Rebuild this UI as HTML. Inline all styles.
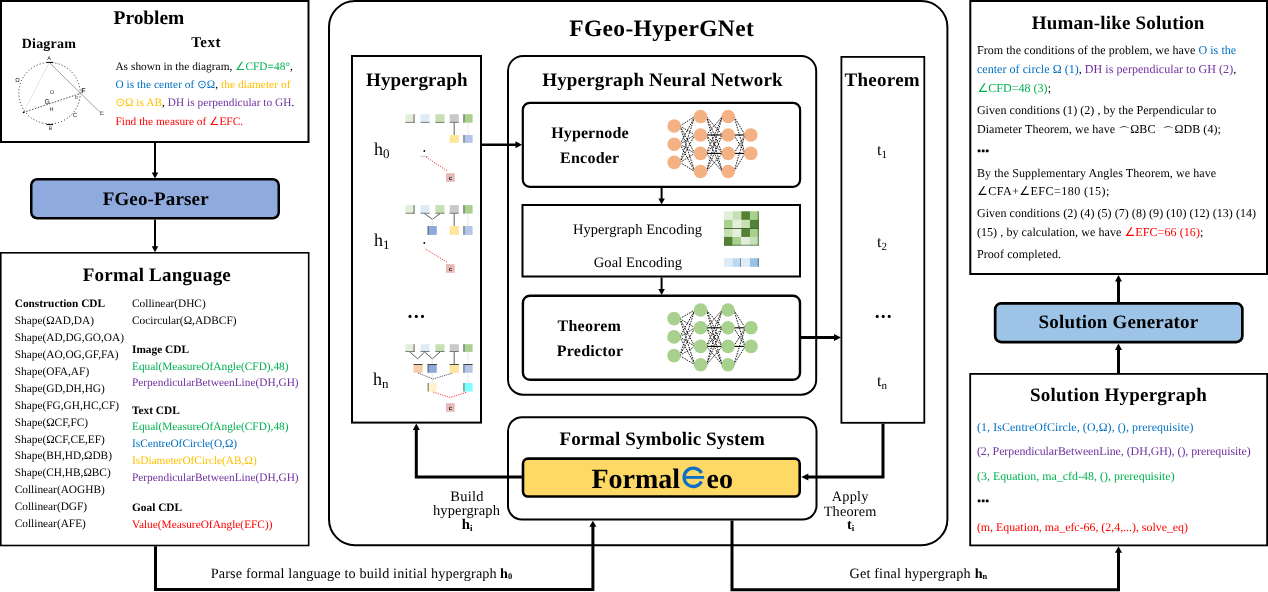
<!DOCTYPE html><html><head><meta charset="utf-8"><style>html,body{margin:0;padding:0;background:#fff;width:1268px;height:592px;overflow:hidden}svg{display:block;will-change:transform}text{font-family:"Liberation Serif",serif;text-rendering:geometricPrecision}</style></head><body>
<svg width="1268" height="592" viewBox="0 0 1268 592">
<rect x="0" y="0" width="1268" height="592" fill="#fff"/>
<rect x="1.00" y="1.00" width="307.50" height="141.00" rx="0" fill="none" stroke="#000" stroke-width="2"/>
<text x="113.60" y="24.1" font-size="19.5" font-weight="bold" fill="#000" textLength="70.60" lengthAdjust="spacing" >Problem</text>
<text x="21.70" y="47.7" font-size="14" font-weight="bold" fill="#000" textLength="54.20" lengthAdjust="spacing" >Diagram</text>
<text x="191.20" y="46.8" font-size="15" font-weight="bold" fill="#000" textLength="29.20" lengthAdjust="spacing" >Text</text>
<text x="115.40" textLength="177.40" lengthAdjust="spacing" y="69.7" font-size="11.3">As shown in the diagram, <tspan fill="#00B050">∠CFD=48°</tspan>,</text>
<text x="115.40" textLength="175.00" lengthAdjust="spacing" y="88" font-size="11.3"><tspan fill="#0070C0">O is the center of ⊙Ω</tspan>, <tspan fill="#FFC000">the diameter of</tspan></text>
<text x="115.40" textLength="179.00" lengthAdjust="spacing" y="106.2" font-size="11.3"><tspan fill="#FFC000">⊙Ω is AB</tspan>, <tspan fill="#7030A0">DH is perpendicular to GH</tspan>.</text>
<text x="115.40" textLength="127.70" lengthAdjust="spacing" y="124.9" font-size="11.3" fill="#FF0000">Find the measure of ∠EFC.</text>
<circle cx="49.5" cy="93.2" r="30.7" fill="none" stroke="#222" stroke-width="1" stroke-dasharray="1 2.2"/>
<line x1="49.3" y1="62.5" x2="99.5" y2="111.8" stroke="#8a8a8a" stroke-width="0.8" />
<line x1="49.3" y1="62.5" x2="23.5" y2="112.4" stroke="#bbb" stroke-width="0.8" stroke-dasharray="1 1"/>
<line x1="23.5" y1="112.4" x2="80.4" y2="93.5" stroke="#333" stroke-width="0.9" stroke-dasharray="1.5 1.5"/>
<g font-family="Liberation Sans, sans-serif" fill="#222" text-anchor="middle">
<text x="49.2" y="60.4" font-size="5.5" font-weight="normal" style="font-family:Liberation Sans">A</text>
<text x="83.3" y="93.4" font-size="7" font-weight="bold" style="font-family:Liberation Sans">F</text>
<text x="102" y="114.6" font-size="6" font-weight="normal" style="font-family:Liberation Sans">E</text>
<text x="47.2" y="104" font-size="7" font-weight="normal" style="font-family:Liberation Sans">G</text>
<text x="52" y="94.3" font-size="5.5" font-weight="normal" style="font-family:Liberation Sans">O</text>
<text x="51.5" y="111" font-size="5.5" font-weight="normal" style="font-family:Liberation Sans">H</text>
<text x="75" y="117.2" font-size="6" font-weight="normal" style="font-family:Liberation Sans">C</text>
<text x="50.5" y="130" font-size="5" font-weight="normal" style="font-family:Liberation Sans">B</text>
<text x="17.4" y="82" font-size="6" font-weight="normal" style="font-family:Liberation Sans">Ω</text>
<text x="76.4" y="98.6" font-size="4.5" font-weight="normal" style="font-family:Liberation Sans">D</text>
</g>
<line x1="46.5" y1="62.4" x2="53.2" y2="62.4" stroke="#000" stroke-width="1" />
<line x1="46.5" y1="124.6" x2="53.2" y2="124.6" stroke="#000" stroke-width="1" />
<circle cx="23.5" cy="112.4" r="0.8" fill="#000"/>
<rect x="31.25" y="179.25" width="247.50" height="39.00" rx="6" fill="#8FAADC" stroke="#000" stroke-width="2.5"/>
<text x="102.70" y="204.5" font-size="19" font-weight="bold" fill="#000" textLength="105.90" lengthAdjust="spacing" >FGeo-Parser</text>
<line x1="155" y1="143" x2="155" y2="174" stroke="#000" stroke-width="2" />
<polygon points="155.00,178.50 151.75,172.50 158.25,172.50" fill="#000"/>
<line x1="155" y1="219.5" x2="155" y2="248" stroke="#000" stroke-width="2" />
<polygon points="155.00,252.30 151.75,246.30 158.25,246.30" fill="#000"/>
<rect x="0.80" y="252.80" width="307.90" height="292.70" rx="0" fill="none" stroke="#000" stroke-width="1.6"/>
<text x="82.80" y="280.8" font-size="19" font-weight="bold" fill="#000" textLength="148.00" lengthAdjust="spacing" >Formal Language</text>
<text x="14.7" y="307.1" font-size="11.35" font-weight="bold" text-anchor="start" fill="#000" >Construction CDL</text>
<text x="14.7" y="324.03" font-size="11.35" font-weight="normal" text-anchor="start" fill="#000" >Shape(ΩAD,DA)</text>
<text x="14.7" y="340.96" font-size="11.35" font-weight="normal" text-anchor="start" fill="#000" >Shape(AD,DG,GO,OA)</text>
<text x="14.7" y="357.89" font-size="11.35" font-weight="normal" text-anchor="start" fill="#000" >Shape(AO,OG,GF,FA)</text>
<text x="14.7" y="374.82" font-size="11.35" font-weight="normal" text-anchor="start" fill="#000" >Shape(OFA,AF)</text>
<text x="14.7" y="391.75" font-size="11.35" font-weight="normal" text-anchor="start" fill="#000" >Shape(GD,DH,HG)</text>
<text x="14.7" y="408.68" font-size="11.35" font-weight="normal" text-anchor="start" fill="#000" >Shape(FG,GH,HC,CF)</text>
<text x="14.7" y="425.61" font-size="11.35" font-weight="normal" text-anchor="start" fill="#000" >Shape(ΩCF,FC)</text>
<text x="14.7" y="442.54" font-size="11.35" font-weight="normal" text-anchor="start" fill="#000" >Shape(ΩCF,CE,EF)</text>
<text x="14.7" y="459.47" font-size="11.35" font-weight="normal" text-anchor="start" fill="#000" >Shape(BH,HD,ΩDB)</text>
<text x="14.7" y="476.4" font-size="11.35" font-weight="normal" text-anchor="start" fill="#000" >Shape(CH,HB,ΩBC)</text>
<text x="14.7" y="493.33" font-size="11.35" font-weight="normal" text-anchor="start" fill="#000" >Collinear(AOGHB)</text>
<text x="14.7" y="510.26" font-size="11.35" font-weight="normal" text-anchor="start" fill="#000" >Collinear(DGF)</text>
<text x="14.7" y="527.19" font-size="11.35" font-weight="normal" text-anchor="start" fill="#000" >Collinear(AFE)</text>
<text x="132" y="307.0" font-size="11.35" font-weight="normal" text-anchor="start" fill="#000" >Collinear(DHC)</text>
<text x="132" y="323.5" font-size="11.35" font-weight="normal" text-anchor="start" fill="#000" >Cocircular(Ω,ADBCF)</text>
<text x="132" y="352.6" font-size="11.35" font-weight="bold" text-anchor="start" fill="#000" >Image CDL</text>
<text x="132" y="369.6" font-size="11.35" font-weight="normal" text-anchor="start" fill="#00B050" >Equal(MeasureOfAngle(CFD),48)</text>
<text x="132" y="386.40000000000003" font-size="11.35" font-weight="normal" text-anchor="start" fill="#7030A0" >PerpendicularBetweenLine(DH,GH)</text>
<text x="132" y="414.0" font-size="11.35" font-weight="bold" text-anchor="start" fill="#000" >Text CDL</text>
<text x="132" y="430.40000000000003" font-size="11.35" font-weight="normal" text-anchor="start" fill="#00B050" >Equal(MeasureOfAngle(CFD),48)</text>
<text x="132" y="447.40000000000003" font-size="11.35" font-weight="normal" text-anchor="start" fill="#0070C0" >IsCentreOfCircle(O,Ω)</text>
<text x="132" y="464.40000000000003" font-size="11.35" font-weight="normal" text-anchor="start" fill="#FFC000" >IsDiameterOfCircle(AB,Ω)</text>
<text x="132" y="481.40000000000003" font-size="11.35" font-weight="normal" text-anchor="start" fill="#7030A0" >PerpendicularBetweenLine(DH,GH)</text>
<text x="132" y="510.6" font-size="11.35" font-weight="bold" text-anchor="start" fill="#000" >Goal CDL</text>
<text x="132" y="527.7" font-size="11.35" font-weight="normal" text-anchor="start" fill="#FF0000" >Value(MeasureOfAngle(EFC))</text>
<polyline points="155.5,546.3 155.5,589.5 592.9,589.5 592.9,526" fill="none" stroke="#000" stroke-width="3" stroke-linejoin="miter" />
<polygon points="592.90,520.80 589.40,526.80 596.40,526.80" fill="#000"/>
<text x="210.70" y="577.8" font-size="14.2" font-weight="normal" fill="#000" textLength="286.00" lengthAdjust="spacing" >Parse formal language to build initial hypergraph</text>
<text x="500" y="577.8" font-size="14.2" font-weight="bold">h<tspan font-size="8.5" dy="1.5">0</tspan></text>
<rect x="329.00" y="1.00" width="618.40" height="544.20" rx="26" fill="none" stroke="#000" stroke-width="2"/>
<text x="569.20" y="36" font-size="23.5" font-weight="bold" fill="#000" textLength="184.60" lengthAdjust="spacing" >FGeo-HyperGNet</text>
<rect x="352.00" y="56.00" width="129.00" height="366.60" rx="0" fill="none" stroke="#000" stroke-width="2"/>
<text x="366.00" y="85.8" font-size="19" font-weight="bold" fill="#000" textLength="101.50" lengthAdjust="spacing" >Hypergraph</text>
<text x="374" y="154.5" font-size="18">h<tspan font-size="13" dy="3">0</tspan></text>
<text x="374" y="245.7" font-size="18">h<tspan font-size="13" dy="3">1</tspan></text>
<text x="373" y="384.6" font-size="18">h<tspan font-size="13" dy="3">n</tspan></text>
<circle cx="410" cy="316.4" r="1.55" fill="#000"/>
<circle cx="416.3" cy="316.4" r="1.55" fill="#000"/>
<circle cx="422.5" cy="316.4" r="1.55" fill="#000"/>
<rect x="508.00" y="56.00" width="308.20" height="338.70" rx="15" fill="none" stroke="#000" stroke-width="2"/>
<text x="542.20" y="85.5" font-size="19" font-weight="bold" fill="#000" textLength="240.50" lengthAdjust="spacing" >Hypergraph Neural Network</text>
<rect x="522.80" y="102.80" width="277.30" height="84.00" rx="7" fill="none" stroke="#000" stroke-width="2.2"/>
<text x="551.20" y="137.8" font-size="16" font-weight="bold" fill="#000" textLength="77.40" lengthAdjust="spacing" >Hypernode</text>
<text x="560.10" y="162.6" font-size="16" font-weight="bold" fill="#000" textLength="59.10" lengthAdjust="spacing" >Encoder</text>
<rect x="522.50" y="205.00" width="277.50" height="71.50" rx="0" fill="none" stroke="#000" stroke-width="2"/>
<text x="572.90" y="233.9" font-size="14.5" font-weight="normal" fill="#000" textLength="129.20" lengthAdjust="spacing" >Hypergraph Encoding</text>
<text x="593.80" y="267.4" font-size="14.5" font-weight="normal" fill="#000" textLength="88.30" lengthAdjust="spacing" >Goal Encoding</text>
<rect x="522.90" y="295.70" width="277.10" height="84.10" rx="7" fill="none" stroke="#000" stroke-width="2.4"/>
<text x="557.60" y="330.8" font-size="16" font-weight="bold" fill="#000" textLength="63.20" lengthAdjust="spacing" >Theorem</text>
<text x="556.80" y="355.6" font-size="16" font-weight="bold" fill="#000" textLength="66.30" lengthAdjust="spacing" >Predictor</text>
<rect x="841.40" y="56.90" width="82.90" height="365.90" rx="0" fill="none" stroke="#000" stroke-width="1.8"/>
<text x="844.50" y="85.7" font-size="19" font-weight="bold" fill="#000" textLength="75.20" lengthAdjust="spacing" >Theorem</text>
<text x="877" y="154.8" font-size="16">t<tspan font-size="11" dy="3">1</tspan></text>
<text x="877" y="247.2" font-size="16">t<tspan font-size="11" dy="3">2</tspan></text>
<text x="877" y="386.1" font-size="16">t<tspan font-size="11" dy="3">n</tspan></text>
<circle cx="877.2" cy="316.4" r="1.55" fill="#000"/>
<circle cx="883.2" cy="316.4" r="1.55" fill="#000"/>
<circle cx="889.2" cy="316.4" r="1.55" fill="#000"/>
<rect x="508.00" y="417.20" width="308.50" height="102.40" rx="14" fill="none" stroke="#000" stroke-width="2"/>
<text x="559.40" y="444.5" font-size="19" font-weight="bold" fill="#000" textLength="205.40" lengthAdjust="spacing" >Formal Symbolic System</text>
<rect x="523.00" y="458.60" width="276.70" height="37.90" rx="5" fill="#FFD966" stroke="#000" stroke-width="2.6"/>
<text x="591.4" y="487.6" font-size="28" font-weight="bold" text-anchor="start" fill="#000" >Formal</text>
<text x="706.5" y="487.6" font-size="28" font-weight="bold" text-anchor="start" fill="#000" >eo</text>
<path d="M701.50,473.12 A9.2,9.2 0 1 0 701.50,481.48" fill="none" stroke="#0F6FC6" stroke-width="3.3"/>
<rect x="686.00" y="476" width="18.10" height="2.8" fill="#0F6FC6"/>
<line x1="482" y1="144.8" x2="516" y2="144.8" stroke="#000" stroke-width="2.6" />
<polygon points="522.00,144.80 515.50,141.30 515.50,148.30" fill="#000"/>
<line x1="661.6" y1="187.9" x2="661.6" y2="199" stroke="#000" stroke-width="2" />
<polygon points="661.60,204.50 658.35,198.50 664.85,198.50" fill="#000"/>
<line x1="661.6" y1="277.5" x2="661.6" y2="289" stroke="#000" stroke-width="2" />
<polygon points="661.60,295.00 658.35,289.00 664.85,289.00" fill="#000"/>
<line x1="801" y1="337.5" x2="835" y2="337.5" stroke="#000" stroke-width="3" />
<polygon points="841.00,337.50 834.00,334.00 834.00,341.00" fill="#000"/>
<polyline points="883,423.7 883,477 808,477" fill="none" stroke="#000" stroke-width="3" stroke-linejoin="miter" />
<polygon points="801.30,477.00 808.30,473.50 808.30,480.50" fill="#000"/>
<polyline points="522,477 416.3,477 416.3,429" fill="none" stroke="#000" stroke-width="3" stroke-linejoin="miter" />
<polygon points="416.30,423.40 412.80,429.90 419.80,429.90" fill="#000"/>
<text x="450.20" y="500.8" font-size="14.5" font-weight="normal" fill="#000" textLength="33.30" lengthAdjust="spacing" >Build</text>
<text x="432.90" y="515" font-size="14.5" font-weight="normal" fill="#000" textLength="67.10" lengthAdjust="spacing" >hypergraph</text>
<text x="467.2" y="529.3" font-size="14.8" font-weight="bold" text-anchor="middle">h<tspan font-size="9" dy="2">i</tspan></text>
<text x="831.70" y="500.8" font-size="14.3" font-weight="normal" fill="#000" textLength="36.70" lengthAdjust="spacing" >Apply</text>
<text x="823.70" y="515.5" font-size="14.3" font-weight="normal" fill="#000" textLength="52.70" lengthAdjust="spacing" >Theorem</text>
<text x="850.7" y="529.3" font-size="14.3" font-weight="bold" text-anchor="middle">t<tspan font-size="9" dy="2">i</tspan></text>
<line x1="680.00" y1="126" x2="694.70" y2="116.5" stroke="#000" stroke-width="0.9" stroke-dasharray="1.6 1.1"/>
<line x1="680.00" y1="126" x2="694.70" y2="135" stroke="#000" stroke-width="0.9" stroke-dasharray="1.6 1.1"/>
<line x1="680.00" y1="126" x2="694.70" y2="153.4" stroke="#000" stroke-width="0.9" stroke-dasharray="1.6 1.1"/>
<line x1="680.00" y1="126" x2="694.70" y2="171.5" stroke="#000" stroke-width="0.9" stroke-dasharray="1.6 1.1"/>
<line x1="680.00" y1="144.2" x2="694.70" y2="116.5" stroke="#000" stroke-width="0.9" stroke-dasharray="1.6 1.1"/>
<line x1="680.00" y1="144.2" x2="694.70" y2="135" stroke="#000" stroke-width="0.9" stroke-dasharray="1.6 1.1"/>
<line x1="680.00" y1="144.2" x2="694.70" y2="153.4" stroke="#000" stroke-width="0.9" stroke-dasharray="1.6 1.1"/>
<line x1="680.00" y1="144.2" x2="694.70" y2="171.5" stroke="#000" stroke-width="0.9" stroke-dasharray="1.6 1.1"/>
<line x1="680.00" y1="162.4" x2="694.70" y2="116.5" stroke="#000" stroke-width="0.9" stroke-dasharray="1.6 1.1"/>
<line x1="680.00" y1="162.4" x2="694.70" y2="135" stroke="#000" stroke-width="0.9" stroke-dasharray="1.6 1.1"/>
<line x1="680.00" y1="162.4" x2="694.70" y2="153.4" stroke="#000" stroke-width="0.9" stroke-dasharray="1.6 1.1"/>
<line x1="680.00" y1="162.4" x2="694.70" y2="171.5" stroke="#000" stroke-width="0.9" stroke-dasharray="1.6 1.1"/>
<line x1="706.30" y1="116.5" x2="722.40" y2="135" stroke="#000" stroke-width="0.9" stroke-dasharray="1.6 1.1"/>
<line x1="706.30" y1="116.5" x2="722.40" y2="153.4" stroke="#000" stroke-width="0.9" stroke-dasharray="1.6 1.1"/>
<line x1="706.30" y1="116.5" x2="722.40" y2="171.5" stroke="#000" stroke-width="0.9" stroke-dasharray="1.6 1.1"/>
<line x1="706.30" y1="135" x2="722.40" y2="116.5" stroke="#000" stroke-width="0.9" stroke-dasharray="1.6 1.1"/>
<line x1="706.30" y1="135" x2="722.40" y2="135" stroke="#000" stroke-width="1.1"/>
<line x1="706.30" y1="135" x2="722.40" y2="153.4" stroke="#000" stroke-width="0.9" stroke-dasharray="1.6 1.1"/>
<line x1="706.30" y1="135" x2="722.40" y2="171.5" stroke="#000" stroke-width="0.9" stroke-dasharray="1.6 1.1"/>
<line x1="706.30" y1="153.4" x2="722.40" y2="116.5" stroke="#000" stroke-width="0.9" stroke-dasharray="1.6 1.1"/>
<line x1="706.30" y1="153.4" x2="722.40" y2="135" stroke="#000" stroke-width="0.9" stroke-dasharray="1.6 1.1"/>
<line x1="706.30" y1="153.4" x2="722.40" y2="153.4" stroke="#000" stroke-width="1.1"/>
<line x1="706.30" y1="153.4" x2="722.40" y2="171.5" stroke="#000" stroke-width="0.9" stroke-dasharray="1.6 1.1"/>
<line x1="706.30" y1="171.5" x2="722.40" y2="116.5" stroke="#000" stroke-width="0.9" stroke-dasharray="1.6 1.1"/>
<line x1="706.30" y1="171.5" x2="722.40" y2="135" stroke="#000" stroke-width="0.9" stroke-dasharray="1.6 1.1"/>
<line x1="706.30" y1="171.5" x2="722.40" y2="153.4" stroke="#000" stroke-width="0.9" stroke-dasharray="1.6 1.1"/>
<line x1="734.00" y1="116.5" x2="745.00" y2="135" stroke="#000" stroke-width="0.9" stroke-dasharray="1.6 1.1"/>
<line x1="734.00" y1="116.5" x2="745.00" y2="153.4" stroke="#000" stroke-width="0.9" stroke-dasharray="1.6 1.1"/>
<line x1="734.00" y1="135" x2="745.00" y2="135" stroke="#000" stroke-width="1.1"/>
<line x1="734.00" y1="135" x2="745.00" y2="153.4" stroke="#000" stroke-width="0.9" stroke-dasharray="1.6 1.1"/>
<line x1="734.00" y1="153.4" x2="745.00" y2="135" stroke="#000" stroke-width="0.9" stroke-dasharray="1.6 1.1"/>
<line x1="734.00" y1="153.4" x2="745.00" y2="153.4" stroke="#000" stroke-width="1.1"/>
<line x1="734.00" y1="171.5" x2="745.00" y2="135" stroke="#000" stroke-width="0.9" stroke-dasharray="1.6 1.1"/>
<line x1="734.00" y1="171.5" x2="745.00" y2="153.4" stroke="#000" stroke-width="0.9" stroke-dasharray="1.6 1.1"/>
<circle cx="674.2" cy="126" r="6.8" fill="#F4B183"/>
<circle cx="674.2" cy="144.2" r="6.8" fill="#F4B183"/>
<circle cx="674.2" cy="162.4" r="6.8" fill="#F4B183"/>
<circle cx="700.5" cy="116.5" r="6.8" fill="#F4B183"/>
<circle cx="700.5" cy="135" r="6.8" fill="#F4B183"/>
<circle cx="700.5" cy="153.4" r="6.8" fill="#F4B183"/>
<circle cx="700.5" cy="171.5" r="6.8" fill="#F4B183"/>
<circle cx="728.2" cy="116.5" r="6.8" fill="#F4B183"/>
<circle cx="728.2" cy="135" r="6.8" fill="#F4B183"/>
<circle cx="728.2" cy="153.4" r="6.8" fill="#F4B183"/>
<circle cx="728.2" cy="171.5" r="6.8" fill="#F4B183"/>
<circle cx="750.8" cy="135" r="6.8" fill="#F4B183"/>
<circle cx="750.8" cy="153.4" r="6.8" fill="#F4B183"/>
<line x1="679.80" y1="318.6" x2="694.80" y2="310" stroke="#000" stroke-width="0.9" stroke-dasharray="1.6 1.1"/>
<line x1="679.80" y1="318.6" x2="694.80" y2="327.8" stroke="#000" stroke-width="0.9" stroke-dasharray="1.6 1.1"/>
<line x1="679.80" y1="318.6" x2="694.80" y2="346.4" stroke="#000" stroke-width="0.9" stroke-dasharray="1.6 1.1"/>
<line x1="679.80" y1="318.6" x2="694.80" y2="364.7" stroke="#000" stroke-width="0.9" stroke-dasharray="1.6 1.1"/>
<line x1="679.80" y1="336.9" x2="694.80" y2="310" stroke="#000" stroke-width="0.9" stroke-dasharray="1.6 1.1"/>
<line x1="679.80" y1="336.9" x2="694.80" y2="327.8" stroke="#000" stroke-width="0.9" stroke-dasharray="1.6 1.1"/>
<line x1="679.80" y1="336.9" x2="694.80" y2="346.4" stroke="#000" stroke-width="0.9" stroke-dasharray="1.6 1.1"/>
<line x1="679.80" y1="336.9" x2="694.80" y2="364.7" stroke="#000" stroke-width="0.9" stroke-dasharray="1.6 1.1"/>
<line x1="679.80" y1="355.6" x2="694.80" y2="310" stroke="#000" stroke-width="0.9" stroke-dasharray="1.6 1.1"/>
<line x1="679.80" y1="355.6" x2="694.80" y2="327.8" stroke="#000" stroke-width="0.9" stroke-dasharray="1.6 1.1"/>
<line x1="679.80" y1="355.6" x2="694.80" y2="346.4" stroke="#000" stroke-width="0.9" stroke-dasharray="1.6 1.1"/>
<line x1="679.80" y1="355.6" x2="694.80" y2="364.7" stroke="#000" stroke-width="0.9" stroke-dasharray="1.6 1.1"/>
<line x1="706.40" y1="310" x2="722.20" y2="327.8" stroke="#000" stroke-width="0.9" stroke-dasharray="1.6 1.1"/>
<line x1="706.40" y1="310" x2="722.20" y2="346.4" stroke="#000" stroke-width="0.9" stroke-dasharray="1.6 1.1"/>
<line x1="706.40" y1="310" x2="722.20" y2="364.7" stroke="#000" stroke-width="0.9" stroke-dasharray="1.6 1.1"/>
<line x1="706.40" y1="327.8" x2="722.20" y2="310" stroke="#000" stroke-width="0.9" stroke-dasharray="1.6 1.1"/>
<line x1="706.40" y1="327.8" x2="722.20" y2="327.8" stroke="#000" stroke-width="1.1"/>
<line x1="706.40" y1="327.8" x2="722.20" y2="346.4" stroke="#000" stroke-width="0.9" stroke-dasharray="1.6 1.1"/>
<line x1="706.40" y1="327.8" x2="722.20" y2="364.7" stroke="#000" stroke-width="0.9" stroke-dasharray="1.6 1.1"/>
<line x1="706.40" y1="346.4" x2="722.20" y2="310" stroke="#000" stroke-width="0.9" stroke-dasharray="1.6 1.1"/>
<line x1="706.40" y1="346.4" x2="722.20" y2="327.8" stroke="#000" stroke-width="0.9" stroke-dasharray="1.6 1.1"/>
<line x1="706.40" y1="346.4" x2="722.20" y2="346.4" stroke="#000" stroke-width="1.1"/>
<line x1="706.40" y1="346.4" x2="722.20" y2="364.7" stroke="#000" stroke-width="0.9" stroke-dasharray="1.6 1.1"/>
<line x1="706.40" y1="364.7" x2="722.20" y2="310" stroke="#000" stroke-width="0.9" stroke-dasharray="1.6 1.1"/>
<line x1="706.40" y1="364.7" x2="722.20" y2="327.8" stroke="#000" stroke-width="0.9" stroke-dasharray="1.6 1.1"/>
<line x1="706.40" y1="364.7" x2="722.20" y2="346.4" stroke="#000" stroke-width="0.9" stroke-dasharray="1.6 1.1"/>
<line x1="733.80" y1="310" x2="745.20" y2="327.8" stroke="#000" stroke-width="0.9" stroke-dasharray="1.6 1.1"/>
<line x1="733.80" y1="310" x2="745.20" y2="346.4" stroke="#000" stroke-width="0.9" stroke-dasharray="1.6 1.1"/>
<line x1="733.80" y1="327.8" x2="745.20" y2="327.8" stroke="#000" stroke-width="1.1"/>
<line x1="733.80" y1="327.8" x2="745.20" y2="346.4" stroke="#000" stroke-width="0.9" stroke-dasharray="1.6 1.1"/>
<line x1="733.80" y1="346.4" x2="745.20" y2="327.8" stroke="#000" stroke-width="0.9" stroke-dasharray="1.6 1.1"/>
<line x1="733.80" y1="346.4" x2="745.20" y2="346.4" stroke="#000" stroke-width="1.1"/>
<line x1="733.80" y1="364.7" x2="745.20" y2="327.8" stroke="#000" stroke-width="0.9" stroke-dasharray="1.6 1.1"/>
<line x1="733.80" y1="364.7" x2="745.20" y2="346.4" stroke="#000" stroke-width="0.9" stroke-dasharray="1.6 1.1"/>
<circle cx="674" cy="318.6" r="6.8" fill="#A9D18E"/>
<circle cx="674" cy="336.9" r="6.8" fill="#A9D18E"/>
<circle cx="674" cy="355.6" r="6.8" fill="#A9D18E"/>
<circle cx="700.6" cy="310" r="6.8" fill="#A9D18E"/>
<circle cx="700.6" cy="327.8" r="6.8" fill="#A9D18E"/>
<circle cx="700.6" cy="346.4" r="6.8" fill="#A9D18E"/>
<circle cx="700.6" cy="364.7" r="6.8" fill="#A9D18E"/>
<circle cx="728" cy="310" r="6.8" fill="#A9D18E"/>
<circle cx="728" cy="327.8" r="6.8" fill="#A9D18E"/>
<circle cx="728" cy="346.4" r="6.8" fill="#A9D18E"/>
<circle cx="728" cy="364.7" r="6.8" fill="#A9D18E"/>
<circle cx="751" cy="327.8" r="6.8" fill="#A9D18E"/>
<circle cx="751" cy="346.4" r="6.8" fill="#A9D18E"/>
<rect x="724.00" y="211.30" width="8.75" height="8.65" fill="#E2EFDA"/>
<rect x="732.65" y="211.30" width="8.75" height="8.65" fill="#C6E0B4"/>
<rect x="741.30" y="211.30" width="8.75" height="8.65" fill="#548235"/>
<rect x="749.95" y="211.30" width="8.75" height="8.65" fill="#A9D08E"/>
<rect x="724.00" y="219.85" width="8.75" height="8.65" fill="#A9D08E"/>
<rect x="732.65" y="219.85" width="8.75" height="8.65" fill="#E2EFDA"/>
<rect x="741.30" y="219.85" width="8.75" height="8.65" fill="#C6E0B4"/>
<rect x="749.95" y="219.85" width="8.75" height="8.65" fill="#548235"/>
<rect x="724.00" y="228.40" width="8.75" height="8.65" fill="#C6E0B4"/>
<rect x="732.65" y="228.40" width="8.75" height="8.65" fill="#E2EFDA"/>
<rect x="741.30" y="228.40" width="8.75" height="8.65" fill="#548235"/>
<rect x="749.95" y="228.40" width="8.75" height="8.65" fill="#A9D08E"/>
<rect x="724.00" y="236.95" width="8.75" height="8.65" fill="#548235"/>
<rect x="732.65" y="236.95" width="8.75" height="8.65" fill="#A9D08E"/>
<rect x="741.30" y="236.95" width="8.75" height="8.65" fill="#E2EFDA"/>
<rect x="749.95" y="236.95" width="8.75" height="8.65" fill="#C6E0B4"/>
<rect x="724" y="228.00" width="34.60" height="0.8" fill="#2f4f1f"/>
<rect x="724" y="244.80" width="34.60" height="0.7" fill="#3a5a2a"/>
<rect x="724.00" y="258.2" width="8.75" height="8.6" fill="#DDEBF7"/>
<rect x="732.65" y="258.2" width="8.75" height="8.6" fill="#BDD7EE"/>
<rect x="741.30" y="258.2" width="8.75" height="8.6" fill="#DDEBF7"/>
<rect x="749.95" y="258.2" width="8.75" height="8.6" fill="#9BC2E6"/>
<rect x="740.2" y="258.2" width="0.8" height="8.6" fill="#6a7a8a"/>
<rect x="757.8" y="258.2" width="0.8" height="8.6" fill="#4a5a6a"/>
<rect x="757.8" y="211.3" width="0.8" height="34.20" fill="#3a5a2a"/>
<rect x="405.40" y="114.20" width="9.1" height="8.5" fill="#E2EFDA"/>
<rect x="405.40" y="121.90" width="9.1" height="0.8" fill="#666"/>
<rect x="413.60" y="114.20" width="0.9" height="8.5" fill="#555"/>
<rect x="420.50" y="114.20" width="9.1" height="8.5" fill="#DDEBF7"/>
<rect x="420.50" y="121.90" width="9.1" height="0.8" fill="#666"/>
<rect x="435.40" y="114.20" width="9.1" height="8.5" fill="#C6E0B4"/>
<rect x="435.40" y="121.90" width="9.1" height="0.8" fill="#666"/>
<rect x="449.70" y="114.20" width="9.1" height="8.5" fill="#C9C9C9"/>
<rect x="449.70" y="121.90" width="9.1" height="0.8" fill="#666"/>
<rect x="463.50" y="114.20" width="9.1" height="8.5" fill="#A9D08E"/>
<rect x="463.50" y="114.20" width="0.9" height="8.5" fill="#555"/>
<line x1="454.2" y1="122.7" x2="454.2" y2="135" stroke="#6f6f6f" stroke-width="1.1" />
<line x1="468" y1="122.7" x2="468" y2="135" stroke="#e3e3e3" stroke-width="0.8" />
<rect x="449.70" y="135.00" width="9.1" height="7.8" fill="#FFE699"/>
<rect x="463.50" y="135.00" width="9.1" height="7.8" fill="#B4C6E7"/>
<rect x="463.50" y="135.00" width="0.9" height="7.8" fill="#555"/>
<circle cx="424.3" cy="151" r="0.9" fill="#000"/>
<line x1="420.5" y1="156.4" x2="428.6" y2="156.4" stroke="#999" stroke-width="0.6" />
<line x1="426" y1="157" x2="448" y2="171.5" stroke="#FF0000" stroke-width="0.8" stroke-dasharray="1.2 1.2"/>
<rect x="446" y="173.2" width="8.7" height="8.6" fill="#E6B9B8"/>
<text x="450.3" y="179.5" font-size="6" font-weight="bold" text-anchor="middle" fill="#222" style="font-family:Liberation Sans">c</text>
<rect x="405.40" y="205.10" width="9.1" height="8.5" fill="#E2EFDA"/>
<rect x="405.40" y="212.80" width="9.1" height="0.8" fill="#666"/>
<rect x="413.60" y="205.10" width="0.9" height="8.5" fill="#555"/>
<rect x="420.50" y="205.10" width="9.1" height="8.5" fill="#DDEBF7"/>
<rect x="420.50" y="212.80" width="9.1" height="0.8" fill="#666"/>
<rect x="435.40" y="205.10" width="9.1" height="8.5" fill="#C6E0B4"/>
<rect x="435.40" y="212.80" width="9.1" height="0.8" fill="#666"/>
<rect x="449.70" y="205.10" width="9.1" height="8.5" fill="#C9C9C9"/>
<rect x="449.70" y="212.80" width="9.1" height="0.8" fill="#666"/>
<rect x="463.50" y="205.10" width="9.1" height="8.5" fill="#A9D08E"/>
<rect x="463.50" y="205.10" width="0.9" height="8.5" fill="#555"/>
<polyline points="424.5,213.6 432.4,219.3 440,213.6" fill="none" stroke="#333" stroke-width="0.8" stroke-linejoin="miter" />
<line x1="432.4" y1="219.3" x2="432.4" y2="226" stroke="#e3e3e3" stroke-width="0.8" />
<line x1="454.2" y1="213.6" x2="454.2" y2="226" stroke="#6f6f6f" stroke-width="1.1" />
<line x1="468" y1="213.6" x2="468" y2="226" stroke="#e3e3e3" stroke-width="0.8" />
<rect x="427.70" y="226.00" width="9.1" height="8.9" fill="#8EA9DB"/>
<rect x="427.70" y="226.00" width="0.9" height="8.9" fill="#555"/>
<rect x="449.70" y="226.00" width="9.1" height="8.9" fill="#FFE699"/>
<rect x="463.50" y="226.00" width="9.1" height="8.9" fill="#B4C6E7"/>
<rect x="463.50" y="226.00" width="0.9" height="8.9" fill="#555"/>
<circle cx="424.3" cy="243" r="0.9" fill="#000"/>
<line x1="425.5" y1="249" x2="447.5" y2="262.5" stroke="#FF0000" stroke-width="0.8" stroke-dasharray="1.2 1.2"/>
<rect x="446" y="264.2" width="8.7" height="8.6" fill="#E6B9B8"/>
<text x="450.3" y="270.5" font-size="6" font-weight="bold" text-anchor="middle" fill="#222" style="font-family:Liberation Sans">c</text>
<rect x="405.40" y="344.20" width="9.1" height="7.7" fill="#E2EFDA"/>
<rect x="405.40" y="351.10" width="9.1" height="0.8" fill="#666"/>
<rect x="413.60" y="344.20" width="0.9" height="7.7" fill="#555"/>
<rect x="420.50" y="344.20" width="9.1" height="7.7" fill="#DDEBF7"/>
<rect x="420.50" y="351.10" width="9.1" height="0.8" fill="#666"/>
<rect x="435.40" y="344.20" width="9.1" height="7.7" fill="#C6E0B4"/>
<rect x="435.40" y="351.10" width="9.1" height="0.8" fill="#666"/>
<rect x="449.70" y="344.20" width="9.1" height="7.7" fill="#C9C9C9"/>
<rect x="449.70" y="351.10" width="9.1" height="0.8" fill="#666"/>
<rect x="463.50" y="344.20" width="9.1" height="7.7" fill="#A9D08E"/>
<rect x="463.50" y="344.20" width="0.9" height="7.7" fill="#555"/>
<polyline points="410,352 417.6,358.8 424.6,352 432.4,358.8 440,352" fill="none" stroke="#333" stroke-width="0.8" stroke-linejoin="miter" />
<line x1="432.4" y1="358.8" x2="432.4" y2="364" stroke="#e3e3e3" stroke-width="0.8" />
<line x1="454.2" y1="351.9" x2="454.2" y2="364" stroke="#6f6f6f" stroke-width="1.1" />
<line x1="468" y1="351.9" x2="468" y2="364" stroke="#e3e3e3" stroke-width="0.8" />
<rect x="413.50" y="364.00" width="9.1" height="8.8" fill="#F8CBAD"/>
<rect x="413.50" y="364.00" width="9.1" height="0.9" fill="#333"/>
<rect x="427.70" y="364.00" width="9.1" height="8.8" fill="#8EA9DB"/>
<rect x="427.70" y="364.00" width="9.1" height="0.9" fill="#333"/>
<rect x="427.70" y="364.00" width="0.9" height="8.8" fill="#555"/>
<rect x="449.70" y="364.00" width="9.1" height="8.8" fill="#FFE699"/>
<rect x="449.70" y="364.00" width="9.1" height="0.9" fill="#333"/>
<rect x="463.50" y="364.00" width="9.1" height="8.8" fill="#B4C6E7"/>
<rect x="463.50" y="364.00" width="9.1" height="0.9" fill="#333"/>
<rect x="463.50" y="364.00" width="0.9" height="8.8" fill="#555"/>
<line x1="432.4" y1="372.8" x2="432.4" y2="383" stroke="#e3e3e3" stroke-width="0.8" />
<line x1="468" y1="372.8" x2="468" y2="383" stroke="#e3e3e3" stroke-width="0.8" />
<polyline points="418,373 433,379 453,373" fill="none" stroke="#333" stroke-width="0.8" stroke-linejoin="miter" stroke-dasharray="1.3 1"/>
<rect x="427.70" y="383.00" width="9.1" height="8.5" fill="#FFF2CC"/>
<rect x="427.70" y="383.00" width="0.9" height="8.5" fill="#555"/>
<rect x="463.50" y="383.00" width="9.1" height="8.5" fill="#7FFFFF"/>
<rect x="463.50" y="383.00" width="0.9" height="8.5" fill="#555"/>
<polyline points="433,392 450,397.5 467,392" fill="none" stroke="#FF0000" stroke-width="0.8" stroke-linejoin="miter" stroke-dasharray="1.2 1.2"/>
<rect x="446" y="403.2" width="8.7" height="8.6" fill="#E6B9B8"/>
<text x="450.3" y="409.5" font-size="6" font-weight="bold" text-anchor="middle" fill="#222" style="font-family:Liberation Sans">c</text>
<polyline points="732,520.6 732,589.8 1118.5,589.8 1118.5,552" fill="none" stroke="#000" stroke-width="3" stroke-linejoin="miter" />
<polygon points="1118.50,546.30 1115.00,552.80 1122.00,552.80" fill="#000"/>
<text x="849.50" y="577.8" font-size="14.2" font-weight="normal" fill="#000" textLength="121.10" lengthAdjust="spacing" >Get final hypergraph</text>
<text x="974.7" y="577.8" font-size="14.2" font-weight="bold">h<tspan font-size="8.5" dy="1.5">n</tspan></text>
<rect x="970.30" y="1.00" width="296.70" height="273.00" rx="0" fill="none" stroke="#000" stroke-width="2"/>
<text x="1031.70" y="28.5" font-size="19" font-weight="bold" fill="#000" textLength="172.70" lengthAdjust="spacing" >Human-like Solution</text>
<text x="976.90" textLength="259.30" lengthAdjust="spacing" y="54.4" font-size="12.05">From the conditions of the problem, we have <tspan fill="#0070C0">O is the</tspan></text>
<text x="976.90" textLength="259.30" lengthAdjust="spacing" y="72.7" font-size="12.05"><tspan fill="#0070C0">center of circle Ω (1)</tspan>, <tspan fill="#7030A0">DH is perpendicular to GH (2)</tspan>,</text>
<text x="977.5" y="92" font-size="12.05"><tspan fill="#00B050">∠CFD=48 (3)</tspan>;</text>
<text x="976.90" textLength="239.30" lengthAdjust="spacing" y="113.8" font-size="12.05">Given conditions (1) (2) , by the Perpendicular to</text>
<text x="976.90" textLength="244.00" lengthAdjust="spacing" y="133" font-size="12.05">Diameter Theorem, we have <tspan dy="3">⌒</tspan><tspan dy="-3">ΩBC</tspan><tspan fill="#e8e8e8">=</tspan><tspan dy="3">⌒</tspan><tspan dy="-3">ΩDB (4);</tspan></text>
<rect x="977.75" y="149.55" width="2.7" height="2.7" rx="0.6" fill="#000"/>
<rect x="981.85" y="149.55" width="2.7" height="2.7" rx="0.6" fill="#000"/>
<rect x="985.85" y="149.55" width="2.7" height="2.7" rx="0.6" fill="#000"/>
<text x="976.90" textLength="239.30" lengthAdjust="spacing" y="176.8" font-size="12.05">By the Supplementary Angles Theorem, we have</text>
<text x="976.90" textLength="132.40" lengthAdjust="spacing" y="195.3" font-size="12.05">∠CFA+∠EFC=180 (15);</text>
<text x="976.90" textLength="279.20" lengthAdjust="spacing" y="217.1" font-size="12.05">Given conditions (2) (4) (5) (7) (8) (9) (10) (12) (13) (14)</text>
<text x="976.90" textLength="226.40" lengthAdjust="spacing" y="236.4" font-size="12.05">(15) , by calculation, we have <tspan fill="#FF0000">∠EFC=66 (16)</tspan>;</text>
<text x="976.90" textLength="84.20" lengthAdjust="spacing" y="257.6" font-size="12.05">Proof completed.</text>
<rect x="995.15" y="303.35" width="247.20" height="38.70" rx="6" fill="#9DC3E6" stroke="#000" stroke-width="2.7"/>
<text x="1038.60" y="328.4" font-size="19" font-weight="bold" fill="#000" textLength="159.60" lengthAdjust="spacing" >Solution Generator</text>
<line x1="1118.5" y1="302" x2="1118.5" y2="281" stroke="#000" stroke-width="3" />
<polygon points="1118.50,275.00 1115.00,281.50 1122.00,281.50" fill="#000"/>
<line x1="1118.5" y1="373" x2="1118.5" y2="349" stroke="#000" stroke-width="3" />
<polygon points="1118.50,343.40 1115.00,349.90 1122.00,349.90" fill="#000"/>
<rect x="970.20" y="373.90" width="296.90" height="171.50" rx="0" fill="none" stroke="#000" stroke-width="1.8"/>
<text x="1030.00" y="401.2" font-size="19" font-weight="bold" fill="#000" textLength="176.80" lengthAdjust="spacing" >Solution Hypergraph</text>
<text x="976.90" y="430.5" font-size="11.9" font-weight="normal" fill="#0070C0" textLength="216.50" lengthAdjust="spacing" >(1, IsCentreOfCircle, (O,Ω), (), prerequisite)</text>
<text x="976.90" y="454.7" font-size="11.9" font-weight="normal" fill="#7030A0" textLength="273.80" lengthAdjust="spacing" >(2, PerpendicularBetweenLine, (DH,GH), (), prerequisite)</text>
<text x="976.90" y="479.7" font-size="11.9" font-weight="normal" fill="#00B050" textLength="197.70" lengthAdjust="spacing" >(3, Equation, ma_cfd-48, (), prerequisite)</text>
<rect x="977.75" y="499.55" width="2.7" height="2.7" rx="0.6" fill="#000"/>
<rect x="981.85" y="499.55" width="2.7" height="2.7" rx="0.6" fill="#000"/>
<rect x="985.85" y="499.55" width="2.7" height="2.7" rx="0.6" fill="#000"/>
<text x="976.90" y="530.7" font-size="11.9" font-weight="normal" fill="#FF0000" textLength="211.10" lengthAdjust="spacing" >(m, Equation, ma_efc-66, (2,4,...), solve_eq)</text>
</svg></body></html>
